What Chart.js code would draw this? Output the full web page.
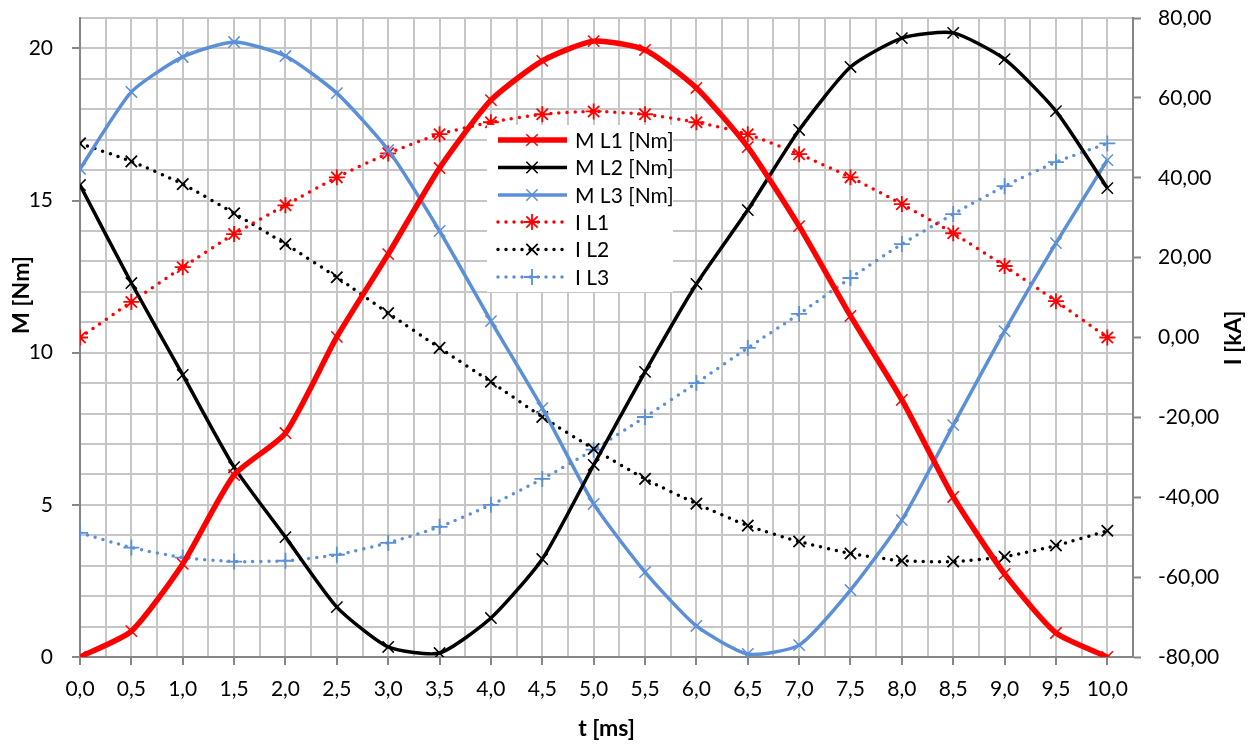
<!DOCTYPE html>
<html><head><meta charset="utf-8">
<script src="https://cdn.jsdelivr.net/npm/chart.js@4.4.1/dist/chart.umd.min.js"></script>
<style>html,body{margin:0;padding:0;background:#fff;}</style>
</head><body>
<canvas id="c" width="1258" height="745" style="width:1258px;height:745px;display:block"></canvas>
<script>
// ---- data ----
const tValues = [0,0.5,1,1.5,2,2.5,3,3.5,4,4.5,5,5.5,6,6.5,7,7.5,8,8.5,9,9.5,10];
const mL1 = [0,0.85,3.06,5.98,7.36,10.52,13.24,16.07,18.30,19.59,20.24,19.95,18.70,16.76,14.16,11.21,8.45,5.26,2.73,0.79,0];
const mL2 = [15.51,12.29,9.27,6.24,3.94,1.64,0.33,0.13,1.28,3.22,6.31,9.37,12.26,14.69,17.32,19.39,20.34,20.51,19.65,17.94,15.41];
const mL3 = [16.04,18.57,19.72,20.21,19.75,18.53,16.66,14.00,11.04,8.18,5.03,2.79,1.02,0.10,0.39,2.20,4.50,7.62,10.71,13.60,16.33];
const iL1 = [0,8.9,17.6,25.9,33.1,40.1,46.1,50.9,53.9,55.9,56.6,55.9,53.9,50.9,45.9,40.1,33.4,26.1,17.9,9.1,0];
const iL2 = [48.6,44.1,38.4,31.1,23.4,15.1,6.1,-2.6,-11.1,-19.9,-27.9,-35.4,-41.6,-47.1,-51.1,-54.1,-55.9,-56.1,-54.9,-52.1,-48.4];
const iL3 = [-48.9,-52.6,-55.1,-56.1,-55.9,-54.4,-51.4,-47.4,-41.9,-35.4,-28.1,-19.9,-11.4,-2.6,5.9,14.9,23.4,30.9,37.9,43.9,48.6];
const seriesNames = ['M L1 [Nm]','M L2 [Nm]','M L3 [Nm]','I L1','I L2','I L3'];
const xTitle = 't [ms]';
const yLeftTitle = 'M [Nm]';
const yRightTitle = 'I [kA]';

const RED = '#FF0000', BLACK = '#000000', BLUE = '#5B8FD8';
const FONT = 'Lato, "Open Sans", sans-serif';
const pts = arr => arr.map((v, i) => ({x: tValues[i], y: v}));

function solid(label, data, color, width) {
  return {label, data: pts(data), yAxisID: 'yL', borderColor: color, backgroundColor: color,
    borderWidth: width, tension: 0.2, pointStyle: 'crossRot', pointRadius: 8, pointBorderWidth: 1.5,
    pointBorderColor: color, pointHoverRadius: 8, fill: false};
}
function dotted(label, data, color, style) {
  return {label, data: pts(data), yAxisID: 'yR', borderColor: color, backgroundColor: color,
    borderWidth: 3.5, borderDash: [0, 8], borderCapStyle: 'round', tension: 0.2,
    pointStyle: style, pointRadius: 8, pointBorderWidth: 1.8, pointBorderColor: color, fill: false};
}
const datasets = [
  solid(seriesNames[0], mL1, RED, 5.5),
  solid(seriesNames[1], mL2, BLACK, 3.5),
  solid(seriesNames[2], mL3, BLUE, 3.5),
  dotted(seriesNames[3], iL1, RED, 'star'),
  dotted(seriesNames[4], iL2, BLACK, 'crossRot'),
  dotted(seriesNames[5], iL3, BLUE, 'cross')
];

function drawMarker(ctx, style, x, y, r, color, w) {
  ctx.save(); ctx.strokeStyle = color; ctx.lineWidth = w; ctx.beginPath();
  const d = r * Math.SQRT1_2;
  if (style === 'crossRot' || style === 'star') {
    ctx.moveTo(x - d, y - d); ctx.lineTo(x + d, y + d);
    ctx.moveTo(x - d, y + d); ctx.lineTo(x + d, y - d);
  }
  if (style === 'cross' || style === 'star') {
    ctx.moveTo(x, y - r); ctx.lineTo(x, y + r);
    ctx.moveTo(x - r, y); ctx.lineTo(x + r, y);
  }
  ctx.stroke(); ctx.restore();
}

const overlay = {
  id: 'overlay',
  afterDraw(chart) {
    const ctx = chart.ctx;
    const a = chart.chartArea;
    // legend
    ctx.save();
    ctx.fillStyle = '#fff';
    ctx.fillRect(487, 125, 186, 167);
    const rows = [140, 167.5, 195, 222, 249.5, 277];
    chart.data.datasets.forEach((ds, i) => {
      const y = rows[i];
      ctx.save();
      ctx.strokeStyle = ds.borderColor;
      ctx.lineWidth = ds.borderWidth;
      ctx.lineCap = ds.borderDash ? 'round' : 'butt';
      if (ds.borderDash) ctx.setLineDash(ds.borderDash);
      ctx.beginPath(); ctx.moveTo(498, y); ctx.lineTo(567, y); ctx.stroke();
      ctx.restore();
      drawMarker(ctx, ds.pointStyle, 532, y, 8, ds.borderColor, ds.pointBorderWidth);
      ctx.fillStyle = '#000';
      ctx.font = '21px ' + FONT;
      ctx.textBaseline = 'middle';
      ctx.textAlign = 'left';
      ctx.fillText(ds.label, 575, y + 1);
    });
    ctx.restore();
    // axis titles
    ctx.save();
    ctx.fillStyle = '#000';
    ctx.font = 'bold 23px ' + FONT;
    ctx.textAlign = 'center'; ctx.textBaseline = 'middle';
    ctx.fillText(xTitle, (a.left + a.right) / 2, 729);
    ctx.save(); ctx.translate(22, 295); ctx.rotate(-Math.PI / 2); ctx.fillText(yLeftTitle, 0, 0); ctx.restore();
    ctx.save(); ctx.translate(1234, 338); ctx.rotate(-Math.PI / 2); ctx.fillText(yRightTitle, 0, 0); ctx.restore();
    ctx.restore();
  }
};

const isMult = (v, s) => Math.abs(v / s - Math.round(v / s)) < 1e-6;
const AXIS = '#868686', GRID = '#C6C6C6';

new Chart(document.getElementById('c'), {
  type: 'line',
  data: {datasets},
  options: {
    responsive: false, animation: false, devicePixelRatio: 1,
    layout: {padding: {top: 18, left: 0, right: 0, bottom: 0}},
    plugins: {legend: {display: false}, tooltip: {enabled: false}},
    scales: {
      x: {
        type: 'linear', position: 'bottom', min: 0, max: 10.25,
        afterFit: s => { s.height = 88; s.paddingLeft = 0; s.paddingRight = 0; },
        grid: {color: GRID, lineWidth: 2, tickLength: 8,
          tickColor: c => (c.tick && isMult(c.tick.value, 0.5) && c.tick.value <= 10) ? AXIS : 'rgba(0,0,0,0)',
          tickWidth: 2},
        border: {color: AXIS, width: 2},
        ticks: {stepSize: 0.25, autoSkip: false, maxRotation: 0, minRotation: 0, padding: 12,
          color: '#000', font: {family: FONT, size: 21},
          callback: v => (isMult(v, 0.5) && v <= 10.0001) ? v.toFixed(1).replace('.', ',') : ''}
      },
      yL: {
        type: 'linear', position: 'left', min: 0, max: 21,
        afterFit: s => { s.width = 80; s.paddingTop = 0; s.paddingBottom = 0; },
        grid: {color: GRID, lineWidth: 2, tickLength: 8,
          tickColor: c => (c.tick && isMult(c.tick.value, 5)) ? AXIS : 'rgba(0,0,0,0)', tickWidth: 2},
        border: {color: AXIS, width: 2},
        ticks: {stepSize: 1, autoSkip: false, padding: 19, color: '#000', font: {family: FONT, size: 21},
          callback: v => isMult(v, 5) ? String(v) : ''}
      },
      yR: {
        type: 'linear', position: 'right', min: -80, max: 80,
        afterFit: s => { s.width = 125; s.paddingTop = 0; s.paddingBottom = 0; },
        grid: {drawOnChartArea: false, color: AXIS, tickLength: 8, tickColor: AXIS, tickWidth: 2},
        border: {color: AXIS, width: 2},
        ticks: {stepSize: 20, padding: 17, color: '#000', font: {family: FONT, size: 21},
          callback: v => v.toFixed(2).replace('.', ',')}
      }
    }
  },
  plugins: [overlay]
});
</script>
</body></html>
